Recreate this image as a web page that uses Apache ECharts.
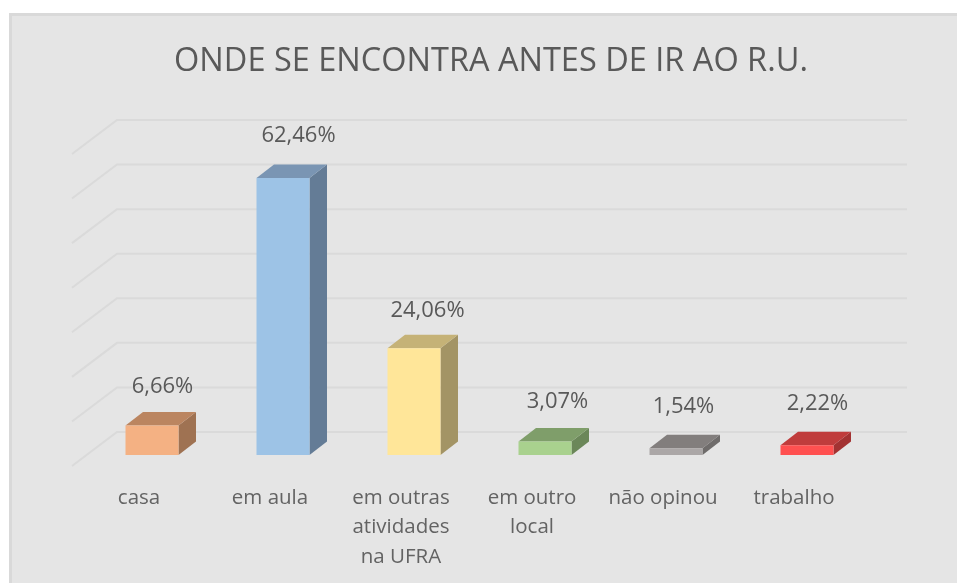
<!DOCTYPE html>
<html>
<head>
<meta charset="utf-8">
<title>ONDE SE ENCONTRA ANTES DE IR AO R.U.</title>
<style>
  html, body { margin: 0; padding: 0; background: #fff; }
  #chart { width: 957px; height: 583px; }
</style>
<script src="https://cdn.jsdelivr.net/npm/echarts@6/dist/echarts.min.js"></script>
</head>
<body>
<div id="chart"></div>
<script>
const chartTitle = "ONDE SE ENCONTRA ANTES DE IR AO R.U.";
const categories = ["casa", "em aula", "em outras\natividades\nna UFRA", "em outro\nlocal", "não opinou", "trabalho"];
const values = [6.66, 62.46, 24.06, 3.07, 1.54, 2.22];
const yTicks = [0, 10, 20, 30, 40, 50, 60, 70];

// front, top and side colours of each bar
const frontColors = ["#f4b183", "#9dc3e6", "#ffe699", "#a9d18e", "#aba7a7", "#ff5050"];
const topColors = ["#bb8560", "#7a95b3", "#c5b277", "#7f9e6a", "#827e7d", "#c03c3c"];
const sideColors = ["#9f7252", "#647c96", "#a39465", "#6b8759", "#6f6c6b", "#a33232"];

// the value labels were placed by hand in the original, not on a common line
const labelNudgeX = [10.5, 15.5, 13.5, 12.5, 7.5, 10.5];
const labelNudgeY = [-25, -29, -24, -26, -28, -28];

const textColor = "#595959";
const font = "Open Sans";

// the 3D look: how far the walls and the bars go back on the page
const wallDx = 45, wallDy = -34;
const barDx = 17.5, barDy = -13.5;
const barShiftX = 13, barBaseY = -11, barWidth = 53, barScale = 0.995;
const wallInset = 1.5, wallRight = 907;

const chart = echarts.init(document.getElementById("chart"));

function renderWall(params, api) {
  const p = api.coord([0, api.value(0)]);
  const left = params.coordSys.x - wallInset;
  return {
    type: "polyline",
    silent: true,
    shape: { points: [[left, p[1]], [left + wallDx, p[1] + wallDy], [wallRight, p[1] + wallDy]] },
    style: { fill: null, stroke: "#dadada", lineWidth: 2 },
  };
}

function renderBar(params, api) {
  const i = params.dataIndex;
  const top = api.coord([i, api.value(1)]);
  const base = api.coord([i, 0]);
  const x0 = top[0] + barShiftX - barWidth / 2;
  const x1 = x0 + barWidth;
  const y1 = base[1] + barBaseY;
  const y0 = y1 - (base[1] - top[1]) * barScale;
  return {
    type: "group",
    children: [
      {
        type: "polygon",
        shape: { points: [[x1, y0], [x1 + barDx, y0 + barDy], [x1 + barDx, y1 + barDy], [x1, y1]] },
        style: { fill: sideColors[i] },
      },
      {
        type: "polygon",
        shape: { points: [[x0, y0], [x0 + barDx, y0 + barDy], [x1 + barDx, y0 + barDy], [x1, y0]] },
        style: { fill: topColors[i] },
      },
      {
        type: "rect",
        shape: { x: x0, y: y0, width: barWidth, height: y1 - y0 },
        style: { fill: frontColors[i] },
      },
      {
        type: "text",
        x: x0 + barWidth / 2 + labelNudgeX[i],
        y: y0 + barDy + labelNudgeY[i],
        style: {
          text: values[i].toFixed(2).replace(".", ",") + "%",
          font: "22px '" + font + "'",
          fill: textColor,
          align: "center",
          verticalAlign: "middle",
        },
      },
    ],
  };
}

chart.setOption({
  backgroundColor: "#fff",
  animation: false,
  title: {
    text: chartTitle,
    left: 486,
    top: 40,
    textAlign: "center",
    textStyle: { color: textColor, fontFamily: font, fontSize: 32.5, fontWeight: "normal" },
  },
  graphic: [
    {
      type: "rect",
      z: -10,
      silent: true,
      shape: { x: 10.5, y: 14.5, width: 960, height: 580 },
      style: { fill: "#e5e5e5", stroke: "#d9d9d9", lineWidth: 3 },
    },
  ],
  grid: { left: 73.5, top: 154, width: 786, height: 312 },
  xAxis: [
    {
      type: "category",
      data: categories,
      axisLine: { show: false },
      axisTick: { show: false },
      axisLabel: {
        interval: 0,
        margin: 17,
        color: "#636363",
        fontFamily: font,
        fontSize: 20.5,
        lineHeight: 29.5,
      },
    },
  ],
  yAxis: [
    {
      type: "value",
      min: 0,
      max: 70,
      interval: 10,
      axisLine: { show: false },
      axisTick: { show: false },
      axisLabel: { show: false },
      splitLine: { show: false },
    },
  ],
  series: [
    {
      type: "custom",
      name: "grade",
      coordinateSystem: "cartesian2d",
      renderItem: renderWall,
      encode: { y: 0 },
      data: yTicks.map((t) => [t]),
      z: 1,
      silent: true,
    },
    {
      type: "custom",
      name: "percentual",
      coordinateSystem: "cartesian2d",
      renderItem: renderBar,
      encode: { x: 0, y: 1 },
      data: values.map((v, i) => [i, v]),
      z: 2,
    },
  ],
});
</script>
</body>
</html>
